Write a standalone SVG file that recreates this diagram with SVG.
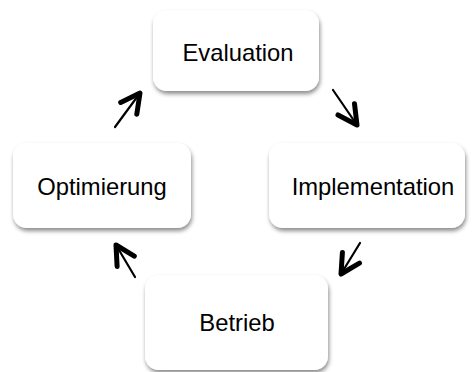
<svg xmlns="http://www.w3.org/2000/svg" width="472" height="372" viewBox="0 0 472 372">
<style>
.box{fill:#fff;filter:url(#sh);}
.lbl{font-family:"Liberation Sans",Arial,sans-serif;font-size:23.8px;fill:#000;text-anchor:middle;}
.conn{stroke:#000;stroke-width:2.2;fill:none;stroke-linecap:round;marker-end:url(#ah);}
</style>
<defs>
<filter id="sh" x="-20%" y="-20%" width="140%" height="150%">
<feDropShadow dx="1" dy="3" stdDeviation="2.2" flood-color="#000" flood-opacity="0.45"/>
</filter>
<marker id="ah" markerUnits="userSpaceOnUse" markerWidth="40" markerHeight="40" refX="0" refY="0" viewBox="-30 -20 40 40" orient="auto" overflow="visible">
<path d="M -19 -10 L 0 0 L -19 10" fill="none" stroke="#000" stroke-width="5" stroke-linecap="round" stroke-linejoin="round"/>
</marker>
</defs>
<g id="connectors">
<line class="conn" x1="333" y1="90" x2="357" y2="125"/>
<line class="conn" x1="360" y1="243" x2="341" y2="274"/>
<line class="conn" x1="135" y1="277" x2="116" y2="245"/>
<line class="conn" x1="115" y1="127" x2="140" y2="93"/>
</g>
<g id="evaluation">
<rect class="box" x="153" y="10" width="166" height="81" rx="14"/>
<text class="lbl" x="238" y="60.5">Evaluation</text>
</g>
<g id="implementation">
<rect class="box" x="269" y="143" width="196" height="85" rx="14"/>
<text class="lbl" x="373" y="195">Implementation</text>
</g>
<g id="betrieb">
<rect class="box" x="145" y="275" width="183" height="95" rx="14"/>
<text class="lbl" x="237" y="330.5">Betrieb</text>
</g>
<g id="optimierung">
<rect class="box" x="13" y="143" width="178" height="85" rx="14"/>
<text class="lbl" x="102" y="195">Optimierung</text>
</g>
</svg>
